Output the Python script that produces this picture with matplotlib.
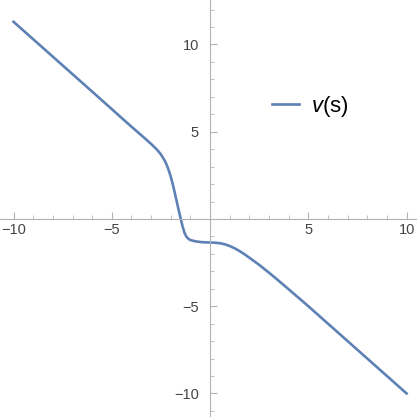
import numpy as np
import matplotlib
matplotlib.use("Agg")
import matplotlib.pyplot as plt

# values
s_vals = [-10, -8, -6, -4.5, -4, -3.5, -3.0, -2.7, -2.5, -2.3, -2.2, -2.1,
          -2.0, -1.9, -1.8, -1.7, -1.6, -1.5, -1.4, -1.3, -1.2, -1.1, -1.0,
          -0.75, -0.5, -0.25, 0, 0.25, 0.5, 0.75, 1.0, 1.25, 1.5, 1.75, 2.0,
          2.5, 3.0, 3.5, 4.0, 5, 6, 8, 10]
v_vals = [11.3, 9.3, 7.3, 5.79, 5.29, 4.8, 4.3, 3.97, 3.7, 3.33, 3.08, 2.78,
          2.42, 2.0, 1.52, 1.02, 0.52, 0.04, -0.42, -0.8, -1.02, -1.14, -1.21,
          -1.28, -1.32, -1.34, -1.35, -1.36, -1.39, -1.45, -1.55, -1.68, -1.84,
          -2.02, -2.22, -2.63, -3.08, -3.55, -4.03, -5.0, -6.0, -8.0, -10.0]

x_major = [-10, -5, 5, 10]
y_major = [-10, -5, 5, 10]
x_labels = ["\u221210", "\u22125", "5", "10"]
y_labels = ["\u221210", "\u22125", "5", "10"]

plt.rcParams['font.family'] = ['Liberation Sans', 'DejaVu Sans']
plt.rcParams['mathtext.fontset'] = 'custom'
plt.rcParams['mathtext.it'] = 'Liberation Sans:italic'
plt.rcParams['mathtext.rm'] = 'Liberation Sans'

fig = plt.figure(figsize=(4.17, 4.17), dpi=100)
ax = fig.add_axes([0, 0, 1, 1])

ax.plot(s_vals, v_vals, color="#5E81B5", lw=1.9, label=r"$v$(s)",
        solid_joinstyle="round")

ax.set_xlim(-10.69, 10.53)
ax.set_ylim(-11.35, 12.55)

axis_col = "#b3b3b3"
for side in ["top", "right"]:
    ax.spines[side].set_visible(False)
for side in ["left", "bottom"]:
    ax.spines[side].set_position(("data", 0))
    ax.spines[side].set_color(axis_col)
    ax.spines[side].set_linewidth(0.8)

ax.set_xticks(x_major)
ax.set_xticklabels(x_labels)
ax.set_yticks(y_major)
ax.set_yticklabels(y_labels)
ax.set_xticks(np.arange(-10, 11, 1), minor=True)
ax.set_yticks(np.arange(-11, 13, 1), minor=True)

ax.tick_params(axis="both", which="both", color=axis_col,
               labelcolor="#444444", labelsize=10.5, pad=3)
ax.tick_params(axis="x", which="both", direction="in")
ax.tick_params(axis="y", which="both", direction="out")
ax.tick_params(which="major", length=5, width=0.8)
ax.tick_params(which="minor", length=3, width=0.6)
# y ticks point to the right of the axis, labels stay on the left
for t in ax.yaxis.get_major_ticks() + ax.yaxis.get_minor_ticks():
    t.tick1line.set_marker(matplotlib.markers.TICKRIGHT)

ax.legend(loc="center left", bbox_to_anchor=(0.604, 0.745),
          frameon=False, fontsize=16, handlelength=1.2,
          handletextpad=0.55)

fig.savefig("out.png", dpi=100)
